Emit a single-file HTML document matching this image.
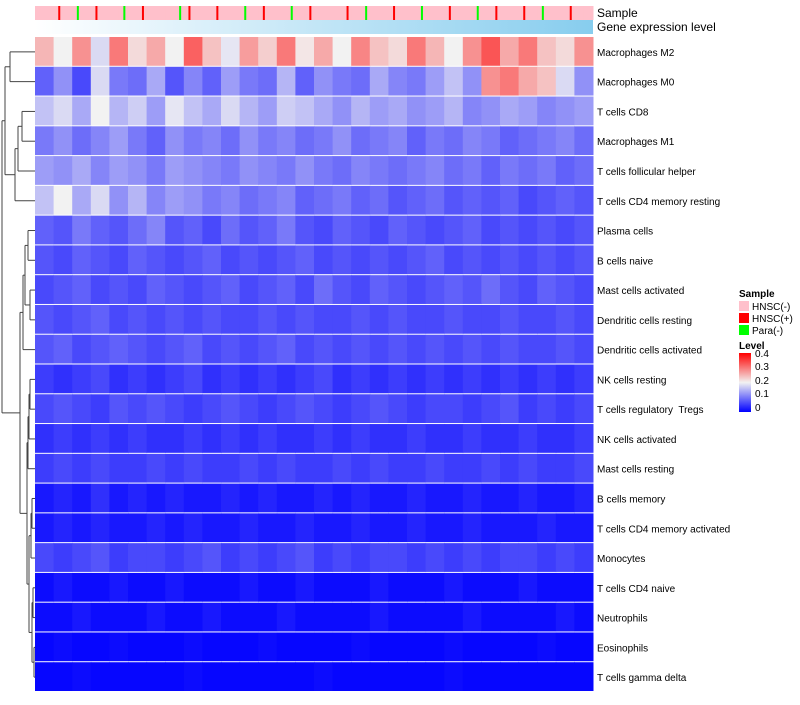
<!DOCTYPE html>
<html><head><meta charset="utf-8"><style>
body{margin:0;background:#fff;font-family:"Liberation Sans",sans-serif}
svg text{font-family:"Liberation Sans",sans-serif;white-space:pre}
</style></head><body>
<svg id="chart" width="800" height="700" xmlns="http://www.w3.org/2000/svg">
<defs>
<linearGradient id="geneGrad" x1="0" x2="1" y1="0" y2="0"><stop offset="0" stop-color="#ffffff"/><stop offset="1" stop-color="#87cdee"/></linearGradient>
<linearGradient id="levelGrad" x1="0" x2="0" y1="1" y2="0"><stop offset="0" stop-color="#0000ff"/><stop offset="0.5" stop-color="#f2f2f2"/><stop offset="1" stop-color="#ff0000"/></linearGradient>
</defs>
<g id="sampleBar"></g>
<rect x="35" y="20" width="558" height="14" fill="url(#geneGrad)"/>
<text x="597" y="17" font-size="12">Sample</text>
<text x="597" y="31" font-size="12">Gene expression level</text>
<g id="cells"></g>
<g id="rowLabels"></g>
<g id="dendro" stroke="#444" fill="none" stroke-width="1"></g>
<g font-size="10">
<text x="739" y="297" font-weight="bold">Sample</text>
<rect x="739" y="301" width="10" height="10" fill="#ffc0cb"/><text x="752" y="310">HNSC(-)</text>
<rect x="739" y="313" width="10" height="10" fill="#ff0000"/><text x="752" y="322">HNSC(+)</text>
<rect x="739" y="325" width="10" height="10" fill="#00ff00"/><text x="752" y="334">Para(-)</text>
<text x="739" y="349" font-weight="bold">Level</text>
<rect x="739" y="353" width="12" height="59" fill="url(#levelGrad)"/>
<text x="755" y="357">0.4</text><text x="755" y="370">0.3</text><text x="755" y="384">0.2</text><text x="755" y="397">0.1</text><text x="755" y="411">0</text>
</g>
</svg>
<script>
const rowNames=["Macrophages M2","Macrophages M0","T cells CD8","Macrophages M1","T cells follicular helper","T cells CD4 memory resting","Plasma cells","B cells naive","Mast cells activated","Dendritic cells resting","Dendritic cells activated","NK cells resting","T cells regulatory  Tregs","NK cells activated","Mast cells resting","B cells memory","T cells CD4 memory activated","Monocytes","T cells CD4 naive","Neutrophils","Eosinophils","T cells gamma delta"];
const r01=[.25,.2,.28,.18,.3,.22,.26,.2,.32,.24,.19,.27,.23,.3,.21,.26,.2,.29,.24,.22,.3,.25,.2,.28,.33,.26,.3,.24,.22,.28];
const r02=[.08,.12,.06,.18,.1,.09,.14,.07,.11,.08,.13,.1,.09,.15,.08,.12,.1,.09,.14,.11,.1,.13,.16,.12,.28,.3,.26,.24,.18,.12];
const r03=[.16,.18,.14,.2,.15,.17,.13,.19,.16,.14,.18,.15,.13,.17,.16,.14,.12,.15,.13,.14,.12,.13,.15,.11,.12,.14,.13,.11,.12,.13];
const r04=[.1,.12,.09,.11,.13,.1,.08,.12,.1,.11,.09,.12,.1,.11,.09,.1,.12,.09,.1,.11,.08,.1,.09,.11,.1,.08,.09,.1,.11,.09];
const r05=[.13,.12,.14,.11,.13,.12,.1,.13,.12,.11,.1,.12,.11,.1,.12,.1,.09,.11,.1,.09,.1,.11,.09,.1,.08,.1,.09,.1,.08,.09];
const r06=[.16,.2,.14,.18,.12,.15,.11,.13,.12,.1,.11,.09,.1,.11,.08,.09,.1,.08,.09,.07,.08,.09,.07,.08,.07,.08,.06,.07,.08,.07];
const r07=[.08,.07,.1,.08,.07,.09,.11,.07,.08,.06,.09,.07,.08,.1,.07,.06,.08,.07,.06,.08,.07,.06,.07,.08,.06,.07,.06,.07,.06,.07];
const r08=[.07,.06,.08,.07,.06,.08,.07,.06,.07,.08,.06,.07,.06,.07,.08,.06,.07,.06,.07,.06,.07,.08,.06,.07,.06,.07,.06,.07,.06,.07];
const r09=[.06,.07,.08,.06,.07,.06,.08,.07,.06,.07,.08,.06,.07,.08,.06,.09,.07,.06,.08,.07,.06,.07,.08,.07,.09,.07,.06,.08,.07,.06];
const r10=[.07,.06,.07,.08,.06,.07,.06,.07,.06,.07,.06,.06,.07,.06,.07,.06,.06,.07,.06,.07,.06,.06,.07,.06,.06,.07,.06,.06,.07,.06];
const r11=[.07,.08,.06,.07,.08,.07,.06,.07,.08,.06,.07,.06,.07,.08,.06,.07,.06,.07,.06,.07,.06,.07,.06,.07,.06,.07,.06,.06,.07,.06];
const r12=[.05,.04,.05,.06,.04,.05,.04,.05,.06,.04,.05,.04,.05,.04,.05,.06,.04,.05,.04,.05,.04,.05,.04,.05,.04,.05,.04,.05,.04,.05];
const r13=[.06,.07,.06,.05,.07,.06,.07,.06,.05,.06,.07,.06,.05,.06,.07,.06,.05,.06,.07,.06,.05,.06,.06,.05,.06,.07,.05,.06,.05,.06];
const r14=[.04,.05,.04,.05,.04,.05,.04,.04,.05,.04,.05,.04,.05,.04,.04,.05,.04,.05,.04,.04,.05,.04,.04,.05,.04,.04,.05,.04,.04,.05];
const r15=[.05,.06,.05,.06,.05,.05,.06,.05,.06,.05,.05,.06,.05,.06,.05,.05,.06,.05,.06,.05,.05,.06,.05,.05,.06,.05,.06,.05,.05,.06];
const r16=[.02,.03,.02,.04,.02,.03,.02,.03,.02,.02,.03,.02,.03,.02,.02,.03,.02,.03,.02,.02,.03,.02,.02,.03,.02,.02,.03,.02,.02,.03];
const r17=[.02,.03,.02,.03,.02,.02,.03,.02,.03,.02,.02,.03,.02,.02,.03,.02,.02,.03,.02,.02,.03,.02,.02,.03,.02,.02,.02,.03,.02,.02];
const r18=[.06,.05,.06,.07,.05,.06,.06,.05,.06,.07,.05,.06,.05,.06,.07,.05,.06,.05,.06,.06,.05,.06,.05,.06,.05,.06,.06,.05,.06,.05];
const r19=[.01,.02,.01,.01,.02,.01,.01,.02,.01,.01,.01,.02,.01,.01,.02,.01,.01,.01,.02,.01,.01,.01,.02,.01,.01,.01,.02,.01,.01,.01];
const r20=[.01,.01,.02,.01,.01,.01,.02,.01,.01,.02,.01,.01,.01,.02,.01,.01,.01,.01,.02,.01,.01,.01,.01,.02,.01,.01,.01,.01,.02,.01];
const r21=[.005,.01,.005,.005,.01,.005,.005,.005,.01,.005,.005,.005,.01,.005,.005,.005,.005,.01,.005,.005,.005,.005,.01,.005,.005,.005,.005,.01,.005,.005];
const r22=[.005,.005,.01,.005,.005,.005,.005,.005,.01,.005,.005,.005,.005,.005,.005,.01,.005,.005,.005,.005,.005,.005,.01,.005,.005,.005,.005,.005,.005,.005];
const rowValues=[r01,r02,r03,r04,r05,r06,r07,r08,r09,r10,r11,r12,r13,r14,r15,r16,r17,r18,r19,r20,r21,r22];
const sampleTypes=["P","P","R","P","G","P","R","P","P","G","P","R","P","P","P","G","R","P","P","R","P","P","G","P","R","P","P","G","P","R","P","P","P","R","P","G","P","P","R","P","P","G","P","P","R","P","P","G","P","R","P","P","R","P","G","P","P","R","P","P"];
const sampleColors={P:"#ffc0cb",R:"#ff0000",G:"#00ff00"};
const NS="http://www.w3.org/2000/svg";
const X0=35,X1=593,Y0=37,Y1=692;
const ncol=r01.length, nrow=rowNames.length;
const cw=(X1-X0)/ncol, rh=(Y1-Y0)/nrow;
function xPos(j){return X0+j*cw;}
function yPos(i){return Y0+i*rh;}
function color(v){
  const t=Math.max(0,Math.min(1,v/0.4));
  let r,g,b;
  if(t<0.5){const u=t/0.5;r=Math.round(242*u);g=Math.round(242*u);b=Math.round(255-13*u);}
  else{const u=(t-0.5)/0.5;r=Math.round(242+13*u);g=Math.round(242*(1-u));b=Math.round(242*(1-u));}
  return `rgb(${r},${g},${b})`;
}
const cells=document.getElementById('cells');
rowValues.forEach((row,i)=>{row.forEach((v,j)=>{
  const c=document.createElementNS(NS,'rect');
  
  
  c.setAttribute('x',xPos(j));c.setAttribute('y',yPos(i));
  c.setAttribute('width',cw+0.5);c.setAttribute('height',rh-1);
  c.setAttribute('fill',color(v));cells.appendChild(c);
});});
const labels=document.getElementById('rowLabels');
rowNames.forEach((n,i)=>{
  const t=document.createElementNS(NS,'text');
  
  
  t.setAttribute('x',597);t.setAttribute('y',yPos(i)+rh/2+4);
  t.setAttribute('font-size','10');t.textContent=n;labels.appendChild(t);
});
const sb=document.getElementById('sampleBar');
const sw=(X1-X0)/sampleTypes.length;
sampleTypes.forEach((s,j)=>{
  const r=document.createElementNS(NS,'rect');
  
  
  const w=s==="P"?sw+0.5:2;
  r.setAttribute('x',s==="P"?X0+j*sw:X0+j*sw+sw/2);r.setAttribute('y',6);
  r.setAttribute('width',w);r.setAttribute('height',14);
  r.setAttribute('fill',sampleColors[s]);
  if(s!=="P"){const bg=document.createElementNS(NS,'rect');
    
    
    bg.setAttribute('x',X0+j*sw);bg.setAttribute('y',6);bg.setAttribute('width',sw+0.5);bg.setAttribute('height',14);bg.setAttribute('fill','#ffc0cb');sb.appendChild(bg);}
  sb.appendChild(r);
});
const d=document.getElementById('dendro');
function ln(x1,y1,x2,y2){const l=document.createElementNS(NS,'path');l.setAttribute('d',`M${x1},${y1}L${x2},${y2}`);d.appendChild(l);}
const cy=i=>yPos(i)+rh/2;
function node(a,b,ya,yb,xa,xb,x){ln(xa,ya,x,ya);ln(xb,yb,x,yb);ln(x,ya,x,yb);return (ya+yb)/2;}
let m01=node(0,1,cy(0),cy(1),35,35,10);
let m23=node(2,3,cy(2),cy(3),35,35,22);
let m234=node(0,0,m23,cy(4),22,35,18);
let m2345=node(0,0,m234,cy(5),18,35,15);
let mA=node(0,0,m01,m2345,10,15,5);
let m67=node(0,0,cy(6),cy(7),35,35,28);
let m89=node(0,0,cy(8),cy(9),35,35,30);
let m6789=node(0,0,m67,m89,28,30,25);
let m10=node(0,0,m6789,cy(10),25,35,23);
let m11=node(0,0,cy(11),cy(12),35,35,30);
let m1113=node(0,0,m11,cy(13),30,35,29);
let m14=node(0,0,m1113,cy(14),29,35,28);
let m15=node(0,0,cy(15),cy(16),35,35,32);
let m1517=node(0,0,m15,cy(17),32,35,31);
let m18=node(0,0,cy(18),cy(19),35,35,33);
let m1821=node(0,0,cy(20),cy(21),35,35,34);
let mlow=node(0,0,m18,m1821,33,34,32);
let mb=node(0,0,m1517,mlow,31,32,29);
let mc=node(0,0,m14,mb,28,29,27);
let md=node(0,0,m10,mc,23,27,20);
node(0,0,mA,md,5,20,2);
</script>
</body></html>
